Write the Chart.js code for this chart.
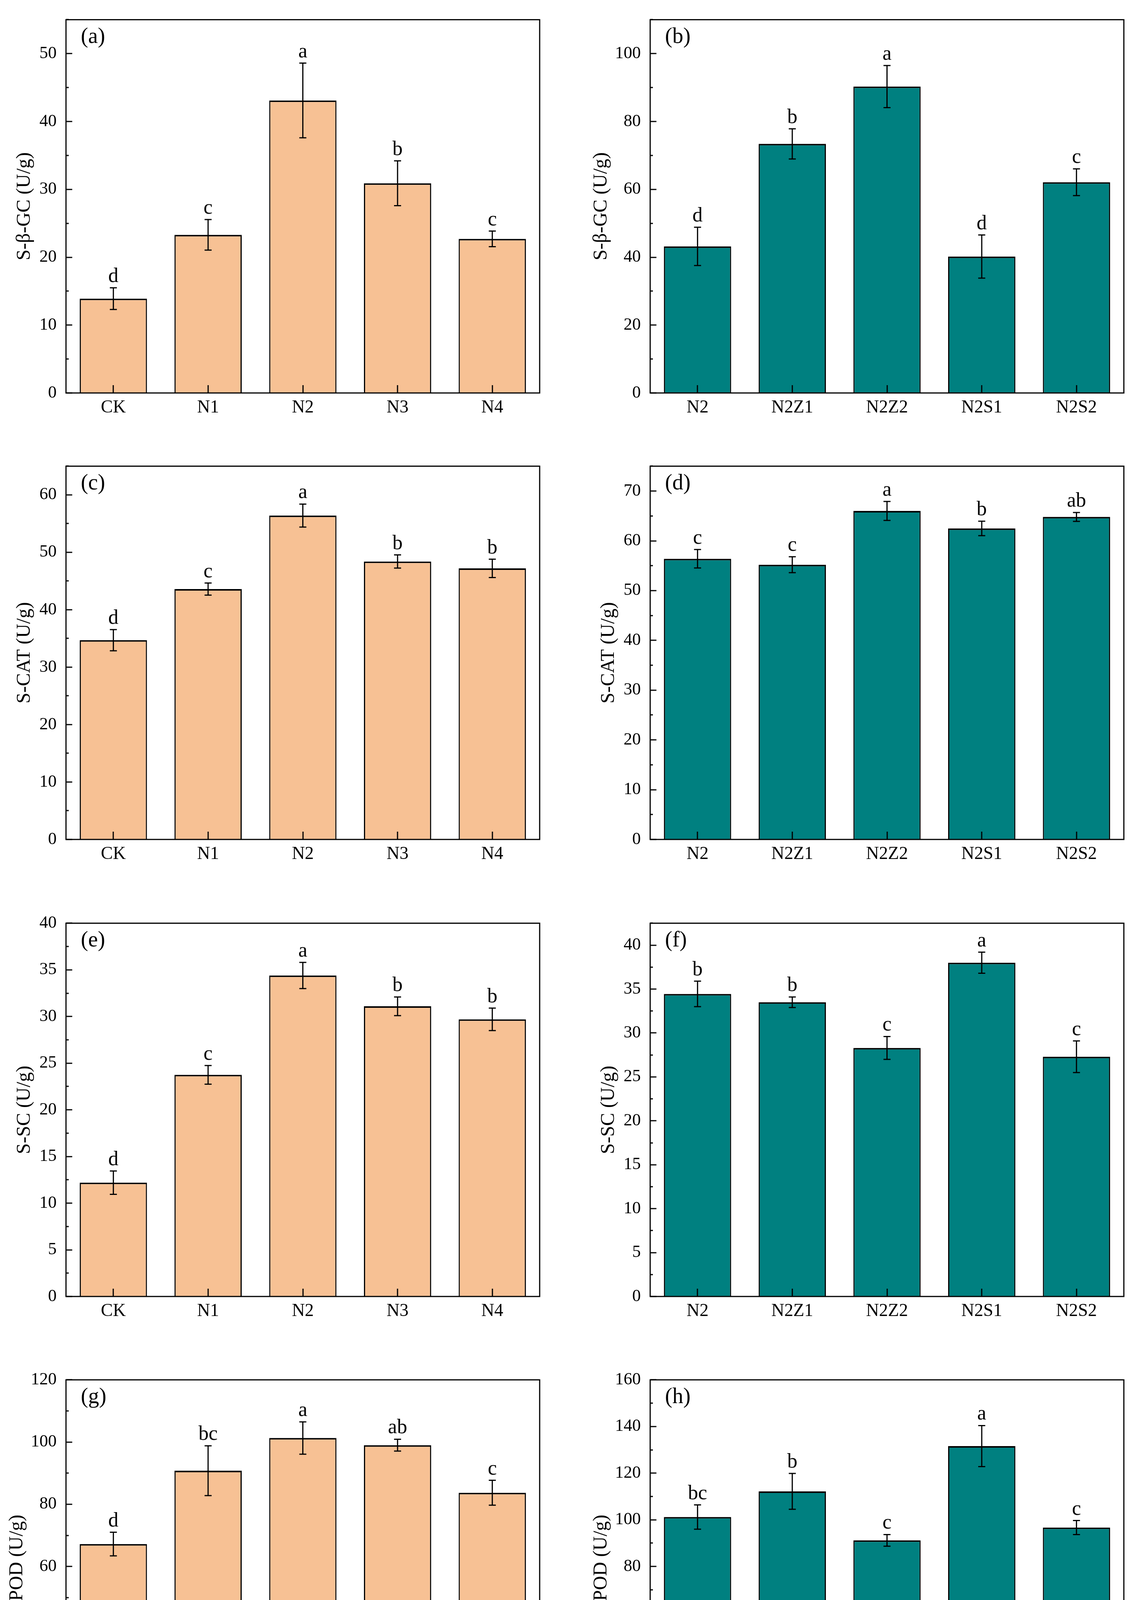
<!DOCTYPE html>
<html>
<head>
<meta charset="utf-8">
<title>Soil enzyme activities</title>
<script src="https://cdn.jsdelivr.net/npm/chart.js@4.4.1/dist/chart.umd.min.js"></script>
<style>
  html, body { margin: 0; padding: 0; background: #fff; }
  #page { position: relative; width: 2904px; height: 4564px; overflow: hidden; }
  #page canvas { position: absolute; }
</style>
</head>
<body>
<div id="page"></div>
<script>
// treatments
const groupsN = ['CK', 'N1', 'N2', 'N3', 'N4'];
const groupsZS = ['N2', 'N2Z1', 'N2Z2', 'N2S1', 'N2S2'];

// S-β-GC
const bgcN = [13.9, 23.3, 43.1, 30.9, 22.7];
const bgcNErr = [1.6, 2.25, 5.5, 3.3, 1.15];
const bgcNSig = ['d', 'c', 'a', 'b', 'c'];
const bgcZS = [43.2, 73.4, 90.3, 40.2, 62.1];
const bgcZSErr = [5.65, 4.45, 6.2, 6.35, 3.95];
const bgcZSSig = ['d', 'b', 'a', 'd', 'c'];

// S-CAT
const catN = [34.7, 43.6, 56.4, 48.4, 47.2];
const catNErr = [1.85, 1.05, 2.0, 1.15, 1.6];
const catNSig = ['d', 'c', 'a', 'b', 'b'];
const catZS = [56.4, 55.2, 66.0, 62.5, 64.8];
const catZSErr = [1.85, 1.6, 1.9, 1.45, 0.9];
const catZSSig = ['c', 'c', 'a', 'b', 'ab'];

// S-SC
const scN = [12.2, 23.75, 34.4, 31.1, 29.7];
const scNErr = [1.25, 1.0, 1.4, 1.0, 1.2];
const scNSig = ['d', 'c', 'a', 'b', 'b'];
const scZS = [34.45, 33.5, 28.3, 38.0, 27.3];
const scZSErr = [1.45, 0.6, 1.3, 1.2, 1.8];
const scZSSig = ['b', 'b', 'c', 'a', 'c'];

// S-POD
const podN = [67.2, 90.8, 101.3, 99.0, 83.7];
const podNErr = [3.8, 8.0, 5.2, 1.9, 4.0];
const podNSig = ['d', 'bc', 'a', 'ab', 'c'];
const podZS = [101.2, 112.2, 91.2, 131.6, 96.7];
const podZSErr = [5.2, 7.7, 2.5, 8.8, 3.0];
const podZSSig = ['bc', 'b', 'c', 'a', 'c'];

const ORANGE = '#F7C194';
const TEAL = '#008080';
const SERIF = "'Liberation Serif', 'Times New Roman', serif";

// layout (px)
const CANVAS_W = 1452, CANVAS_H = 1082;
const PLOT_TOP = 31, PLOT_H = 975;
const rowTops = [0, 1143, 2313, 3482];
const colLefts = [0, 1452];
const plotLefts = [169, 213];
const padRights = [70, 26];
const TITLE_SIZE = 50;

const panels = [
  { tag: '(a)', row: 0, col: 0, labels: groupsN, values: bgcN, errs: bgcNErr, sig: bgcNSig, color: ORANGE, yMax: 55, minor: 5, major: 10, title: 'S-β-GC (U/g)', titleX: 63 },
  { tag: '(b)', row: 0, col: 1, labels: groupsZS, values: bgcZS, errs: bgcZSErr, sig: bgcZSSig, color: TEAL, yMax: 110, minor: 10, major: 20, title: 'S-β-GC (U/g)', titleX: 88 },
  { tag: '(c)', row: 1, col: 0, labels: groupsN, values: catN, errs: catNErr, sig: catNSig, color: ORANGE, yMax: 65, minor: 5, major: 10, title: 'S-CAT (U/g)', titleX: 63 },
  { tag: '(d)', row: 1, col: 1, labels: groupsZS, values: catZS, errs: catZSErr, sig: catZSSig, color: TEAL, yMax: 75, minor: 5, major: 10, title: 'S-CAT (U/g)', titleX: 107 },
  { tag: '(e)', row: 2, col: 0, labels: groupsN, values: scN, errs: scNErr, sig: scNSig, color: ORANGE, yMax: 40, minor: 2.5, major: 5, title: 'S-SC (U/g)', titleX: 63 },
  { tag: '(f)', row: 2, col: 1, labels: groupsZS, values: scZS, errs: scZSErr, sig: scZSSig, color: TEAL, yMax: 42.5, minor: 2.5, major: 5, title: 'S-SC (U/g)', titleX: 107 },
  { tag: '(g)', row: 3, col: 0, labels: groupsN, values: podN, errs: podNErr, sig: podNSig, color: ORANGE, yMax: 120, minor: 10, major: 20, title: 'S-POD (U/g)', titleX: 44 },
  { tag: '(h)', row: 3, col: 1, labels: groupsZS, values: podZS, errs: podZSErr, sig: podZSSig, color: TEAL, yMax: 160, minor: 10, major: 20, title: 'S-POD (U/g)', titleX: 88 },
];

function isMajor(v, major) {
  const r = v / major;
  return Math.abs(r - Math.round(r)) < 1e-6;
}

// frame, inward ticks, error bars, significance letters, panel tag
function decor(p) {
  return {
    id: 'decor',
    afterDatasetsDraw(chart) {
      const { ctx, chartArea: a, scales: { x, y } } = chart;
      const meta = chart.getDatasetMeta(0);
      ctx.save();
      ctx.strokeStyle = '#000';
      ctx.fillStyle = '#000';
      ctx.lineWidth = 3;
      ctx.lineCap = 'butt';

      ctx.font = `52px ${SERIF}`;
      ctx.textAlign = 'center';
      ctx.textBaseline = 'alphabetic';
      meta.data.forEach((bar, i) => {
        const v = p.values[i], e = p.errs[i];
        const yHi = y.getPixelForValue(v + e);
        const yLo = y.getPixelForValue(v - e);
        ctx.beginPath();
        ctx.moveTo(bar.x, yHi); ctx.lineTo(bar.x, yLo);
        ctx.moveTo(bar.x - 9, yHi); ctx.lineTo(bar.x + 9, yHi);
        ctx.moveTo(bar.x - 9, yLo); ctx.lineTo(bar.x + 9, yLo);
        ctx.stroke();
        ctx.fillText(p.sig[i], bar.x, yHi - 15);
      });

      ctx.beginPath();
      y.ticks.forEach(t => {
        const py = Math.round(y.getPixelForValue(t.value));
        const len = isMajor(t.value, p.major) ? 16 : 7;
        ctx.moveTo(a.left, py); ctx.lineTo(a.left + len, py);
      });
      p.labels.forEach((_, i) => {
        const px = Math.round(x.getPixelForValue(i));
        ctx.moveTo(px, a.bottom); ctx.lineTo(px, a.bottom - 20);
      });
      ctx.stroke();

      ctx.strokeRect(a.left, a.top, a.right - a.left, a.bottom - a.top);

      ctx.font = `56px ${SERIF}`;
      ctx.textAlign = 'left';
      ctx.fillText(p.tag, a.left + 38, a.top + 60);
      ctx.restore();
    }
  };
}

const page = document.getElementById('page');
panels.forEach(p => {
  const cv = document.createElement('canvas');
  cv.width = CANVAS_W;
  cv.height = CANVAS_H;
  cv.style.left = colLefts[p.col] + 'px';
  cv.style.top = rowTops[p.row] + 'px';
  page.appendChild(cv);

  const plotLeft = plotLefts[p.col];
  new Chart(cv.getContext('2d'), {
    type: 'bar',
    data: {
      labels: p.labels,
      datasets: [{
        data: p.values,
        backgroundColor: p.color,
        borderColor: '#000',
        borderWidth: { top: 4, left: 3, right: 3, bottom: 0 },
        borderSkipped: 'start',
        barPercentage: 0.71,
        categoryPercentage: 1.0,
      }],
    },
    options: {
      responsive: false,
      animation: false,
      devicePixelRatio: 1,
      layout: { padding: { left: 0, top: PLOT_TOP, right: padRights[p.col], bottom: 0 } },
      plugins: { legend: { display: false }, tooltip: { enabled: false } },
      scales: {
        x: {
          type: 'category',
          offset: true,
          grid: { display: false, drawTicks: false },
          border: { display: false },
          ticks: { color: '#000', font: { family: SERIF, size: 46 }, padding: 10, autoSkip: false, maxRotation: 0 },
          afterFit(s) { s.height = CANVAS_H - PLOT_TOP - PLOT_H; },
        },
        y: {
          min: 0,
          max: p.yMax,
          grid: { display: false, drawTicks: false },
          border: { display: false },
          ticks: {
            stepSize: p.minor,
            autoSkip: false,
            color: '#000',
            font: { family: SERIF, size: 44 },
            padding: 24,
            callback: v => isMajor(v, p.major) ? String(Math.round(v)) : '',
          },
          title: {
            display: true,
            text: p.title,
            color: '#000',
            font: { family: SERIF, size: TITLE_SIZE },
            padding: { top: p.titleX - TITLE_SIZE * 0.6, bottom: 0 },
          },
          afterFit(s) { s.width = plotLeft; },
        },
      },
    },
    plugins: [decor(p)],
  });
});
</script>
</body>
</html>
